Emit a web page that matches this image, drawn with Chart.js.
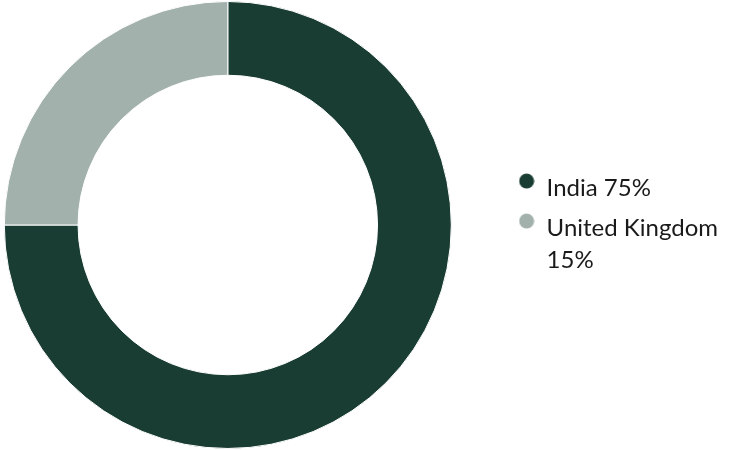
<!DOCTYPE html>
<html>
<head>
<meta charset="utf-8">
<script src="https://cdn.jsdelivr.net/npm/chart.js@4/dist/chart.umd.min.js"></script>
<style>
html,body{margin:0;padding:0;background:#fff;}
#wrap{width:750px;height:450px;position:relative;overflow:hidden;}
#c{position:absolute;left:-55px;top:0;}
</style>
</head>
<body>
<div id="wrap"><canvas id="c" width="805" height="450"></canvas></div>
<script>
const categories = [["India 75%"], ["United Kingdom", "15%"]];
const shareValues = [75, 25];
const sliceColors = ["#1a3d33", "#a3b1ac"];

function markerFor(color) {
  const cv = document.createElement('canvas');
  cv.width = 16; cv.height = 32;
  const g = cv.getContext('2d');
  g.fillStyle = color;
  g.beginPath();
  g.arc(8, 9, 7.5, 0, Math.PI * 2);
  g.fill();
  return cv;
}

const baseGen = Chart.overrides.doughnut.plugins.legend.labels.generateLabels;

new Chart(document.getElementById('c'), {
  type: 'doughnut',
  data: {
    labels: categories,
    datasets: [{
      data: shareValues,
      backgroundColor: sliceColors,
      borderColor: '#ffffff',
      borderWidth: 1,
      hoverOffset: 0
    }]
  },
  options: {
    responsive: false,
    animation: false,
    cutout: '67%',
    layout: { padding: { left: 0, top: 1, bottom: 1, right: 22 } },
    plugins: {
      tooltip: { enabled: false },
      legend: {
        position: 'right',
        title: { display: true, text: '', padding: 0, font: { size: 6, lineHeight: 1 } },
        labels: {
          usePointStyle: true,
          boxWidth: 16,
          boxHeight: 24,
          padding: 8,
          color: '#1a1a1a',
          font: { family: 'Lato', size: 24, lineHeight: 1.333 },
          generateLabels: function(chart) {
            return baseGen(chart).map(function(item) {
              item.pointStyle = markerFor(item.fillStyle);
              return item;
            });
          }
        }
      }
    }
  }
});
</script>
</body>
</html>
